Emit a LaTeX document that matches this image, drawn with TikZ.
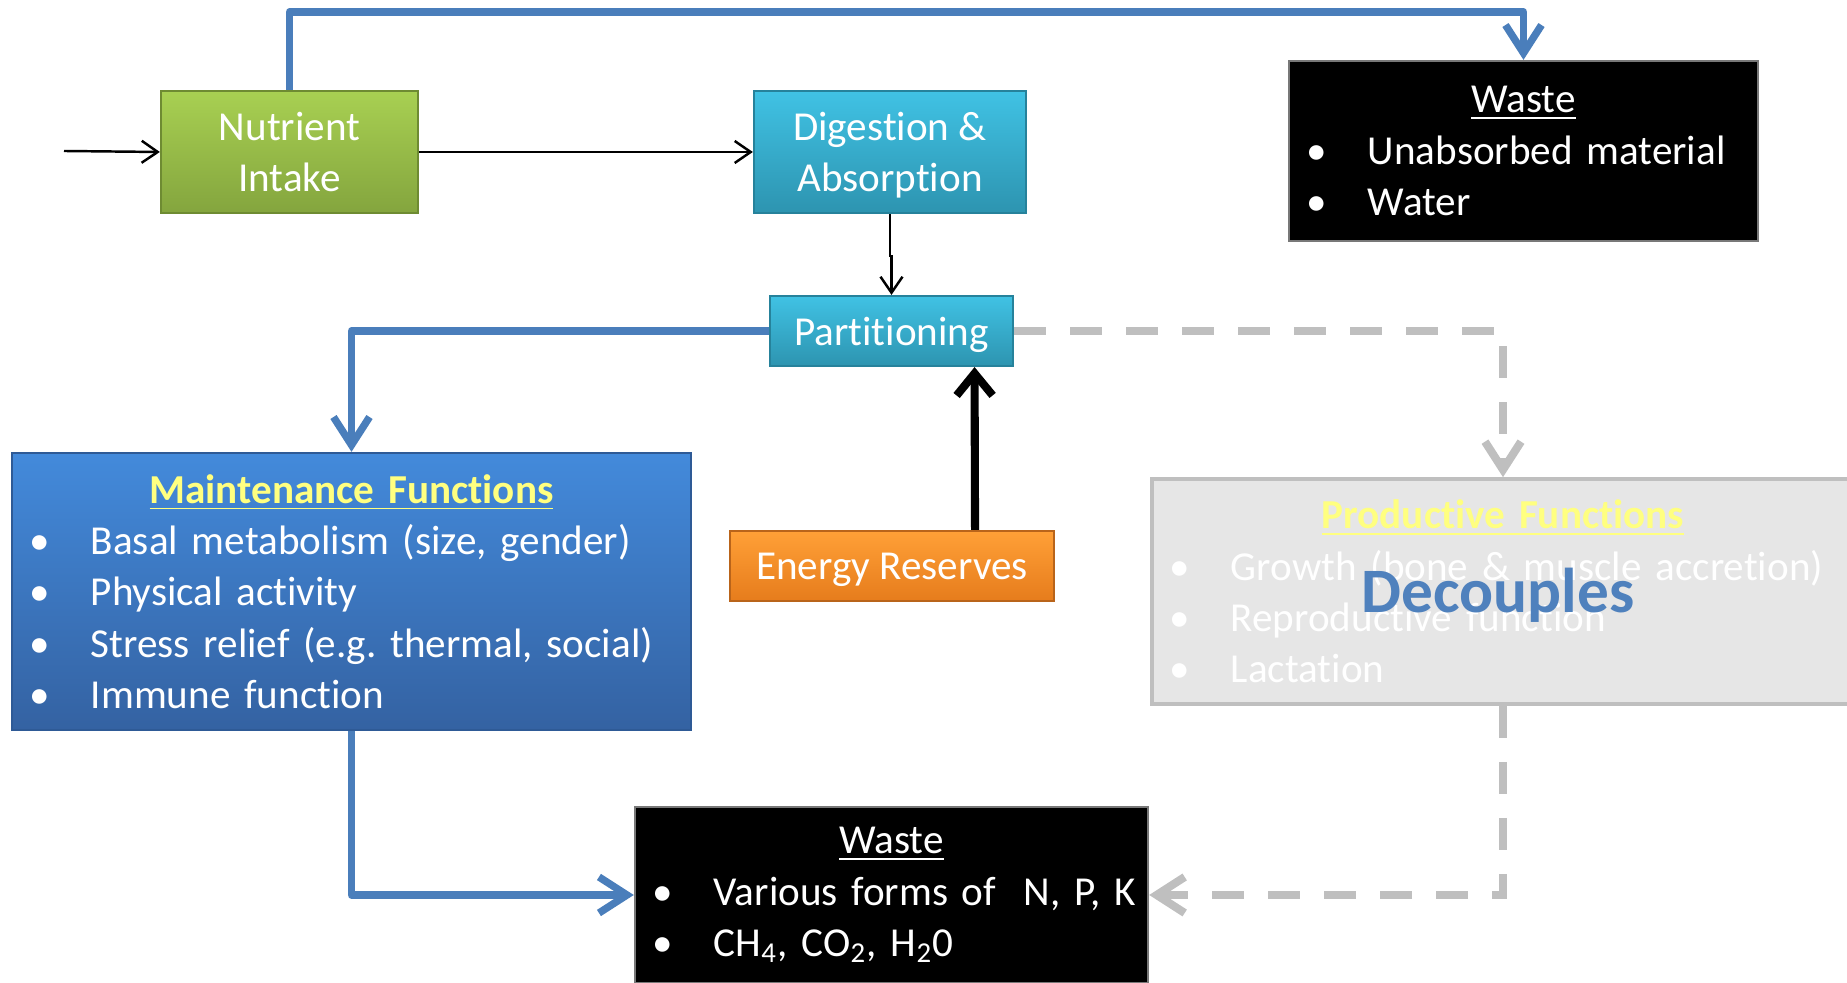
\documentclass[tikz,border=0pt]{standalone}
\usepackage{fontspec}
\setmainfont[Ligatures=NoCommon]{Carlito}
\usetikzlibrary{arrows.meta}
\setlength{\parindent}{0pt}
\frenchspacing
\definecolor{linkblue}{HTML}{4A7EBB}
\definecolor{linkgrey}{HTML}{BFBFBF}
\definecolor{titleyellow}{HTML}{FFFF80}
\definecolor{decoblue}{HTML}{4F81BD}
\definecolor{greentop}{RGB}{168,208,82}
\definecolor{greenbot}{RGB}{132,165,62}
\definecolor{greenedge}{RGB}{110,139,50}
\definecolor{tealtop}{RGB}{64,194,228}
\definecolor{tealbot}{RGB}{45,148,176}
\definecolor{tealedge}{RGB}{38,130,155}
\definecolor{orangetop}{RGB}{255,160,55}
\definecolor{orangebot}{RGB}{230,124,28}
\definecolor{orangeedge}{RGB}{185,100,26}
\definecolor{bluetop}{RGB}{67,138,219}
\definecolor{bluebot}{RGB}{52,98,162}
\definecolor{blueedge}{RGB}{46,90,150}
\definecolor{wasteedge}{RGB}{120,120,120}
\definecolor{prodfill}{RGB}{230,230,230}
\newcommand{\bul}[1]{\makebox[0.53cm][l]{\hspace{-0.08cm}\textbullet}\mbox{#1}\par}

\begin{document}
\begin{tikzpicture}[x=0.01cm,y=-0.01cm,
	box/.style={rectangle,draw,line width=0.6pt,text=white,inner sep=0pt,
		font=\fontsize{11.7}{14.6}\selectfont},
	listbox/.style={box,inner xsep=0.26cm},
	greenbox/.style={box,top color=greentop,bottom color=greenbot,draw=greenedge},
	tealbox/.style={box,top color=tealtop,bottom color=tealbot,draw=tealedge,text depth=0pt},
	orangebox/.style={box,top color=orangetop,bottom color=orangebot,draw=orangeedge,text depth=0pt},
	bluebox/.style={listbox,top color=bluetop,bottom color=bluebot,draw=blueedge},
	wastebox/.style={listbox,fill=black,draw=wasteedge},
	greybox/.style={listbox,fill=prodfill,draw=linkgrey,line width=1pt},
	thinarrow/.style={draw=black,line width=0.7pt,-{Straight Barb[length=0.16cm,width=0.22cm]}},
	blackarrow/.style={draw=black,line width=2.3pt,-{Straight Barb[length=0.22cm,width=0.36cm]}},
	bluearrow/.style={draw=linkblue,line width=2.1pt,line join=round,-{Straight Barb[length=0.28cm,width=0.36cm]}},
	greyarrow/.style={draw=linkgrey,line width=2.3pt,dash pattern=on 0.32cm off 0.24cm,-{Straight Barb[length=0.28cm,width=0.36cm]}},
	decouple/.style={text=decoblue,font=\fontsize{18}{20}\selectfont\bfseries}]
\useasboundingbox (0,0) rectangle (1847,983);
\clip (0,0) rectangle (1847,983);

\node[greenbox,minimum width=2.57cm,minimum height=1.22cm,align=center] (intake) at (289.5,152) {Nutrient\\Intake};
\node[tealbox,minimum width=2.72cm,minimum height=1.22cm,align=center] (digest) at (890,152) {Digestion \&\\Absorption};
\node[wastebox,minimum width=4.69cm,minimum height=1.8cm,text width=4.17cm] (waste1) at (1523.5,151)
	{\centering\underline{Waste}\par\raggedright\bul{Unabsorbed material}\bul{Water}};
\node[tealbox,minimum width=2.43cm,minimum height=0.7cm] (part) at (891.5,331) {Partitioning};
\node[bluebox,minimum width=6.79cm,minimum height=2.77cm,text width=6.27cm] (maint) at (351.5,591.5)
	{\centering{\color{titleyellow}\bfseries\underline{Maintenance Functions}}\par\raggedright
	\bul{Basal metabolism (size, gender)}\bul{Physical activity}\bul{Stress relief (e.g. thermal, social)}\bul{Immune function}};
\node[orangebox,minimum width=3.24cm,minimum height=0.7cm] (energy) at (892,566) {Energy Reserves};
\node[greybox,minimum width=7.02cm,minimum height=2.25cm,text width=6.5cm] (prod) at (1503,591.5)
	{\centering{\color{titleyellow}\bfseries\underline{Productive Functions}}\par\raggedright
	\bul{Growth (bone \& muscle accretion)}\bul{Reproductive function}\bul{Lactation}};
\node[decouple] (dec) at (1498,595) {Decouples};
\node[wastebox,minimum width=5.13cm,minimum height=1.76cm,text width=4.61cm] (waste2) at (891.5,895)
	{\centering\underline{Waste}\par\raggedright\bul{Various forms of~ N, P, K}\bul{CH\textsubscript{4}, CO\textsubscript{2}, H\textsubscript{2}0}};

\coordinate (in) at (64,151);
\coordinate (top) at (1523.5,12);

\draw[thinarrow] (in) -- (intake.west);
\draw[thinarrow] (intake.east) -- (digest.west);
\draw[thinarrow] (digest.south) -- ++(0,42) -| (part.north);
\draw[bluearrow] (intake.north) |- (top) -- (waste1.north);
\draw[bluearrow] (part.west) -| (maint.north);
\draw[bluearrow] (maint.south) |- (waste2.west);
\draw[greyarrow] (part.east) -| (prod.north);
\draw[greyarrow] (prod.south) |- (waste2.east);
\draw[blackarrow] ([xshift=0.83cm]energy.north) -- ([xshift=0.83cm]part.south);
\end{tikzpicture}
\end{document}
